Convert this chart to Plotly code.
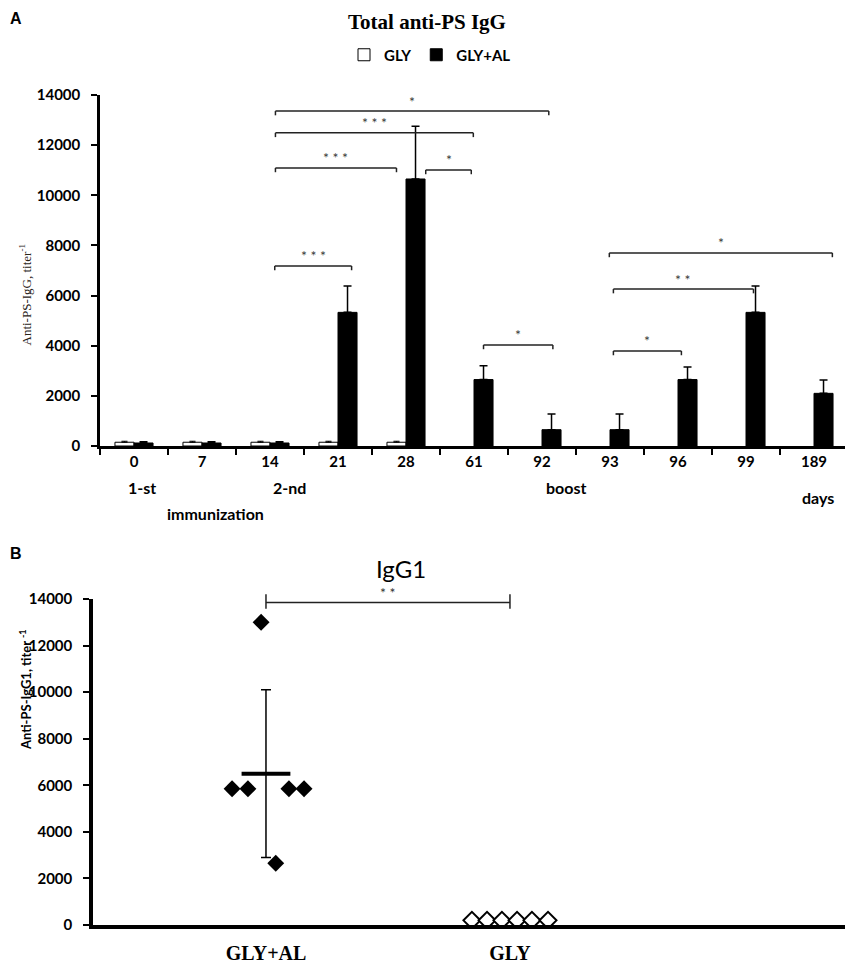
import plotly.graph_objects as go

# the page puts the figure 8px in from the window corner
OFF = 8
W, H = 853 - OFF, 964 - OFF

# panel A: total anti-PS IgG by day
days = ["0", "7", "14", "21", "28", "61", "92", "93", "96", "99", "189"]
gly = [150, 150, 150, 150, 150, None, None, None, None, None, None]
gly_err = [40, 40, 40, 40, 40, None, None, None, None, None, None]
gly_al = [120, 120, 120, 5330, 10650, 2650, 650, 650, 2650, 5330, 2100]
gly_al_err = [50, 50, 50, 1050, 2100, 550, 630, 630, 500, 1050, 530]

# significance brackets in panel A: (from, to, height, stars)
brackets_a = [
    (2.08, 6.10, 13360, "*"),
    (2.08, 4.99, 12490, "* * *"),
    (2.08, 3.86, 11090, "* * *"),
    (4.29, 4.96, 11010, "*"),
    (2.07, 3.20, 7180, "* * *"),
    (5.14, 6.16, 4030, "*"),
    (7.05, 8.05, 3790, "*"),
    (7.05, 9.11, 6260, "* *"),
    (6.99, 10.27, 7700, "*"),
]

# panel B: IgG1 individual titers
groups = ["GLY+AL", "GLY"]
igg1_gly_al = [13000, 5850, 5850, 5850, 5850, 2650]
igg1_gly = [200, 200, 200, 200, 200, 200]
igg1_mean = 6500
igg1_sd = 3600
jitter_al = [-0.02, -0.139, -0.074, 0.094, 0.156, 0.04]
jitter_gly = [-0.156, -0.094, -0.033, 0.029, 0.09, 0.156]


def px(x):
    return (x - OFF) / W


def py(y):
    return 1 - (y - OFF) / H


A_Y = [py(446), py(95)]
B_Y = [py(925), py(599)]


def yb(v):
    # panel B value -> paper coordinate (so the bracket is not clipped)
    return B_Y[0] + v / 14000 * (B_Y[1] - B_Y[0])


fig = go.Figure()

fig.add_trace(go.Bar(
    x=days, y=gly, name="GLY",
    marker=dict(color="white", line=dict(color="black", width=1)),
    error_y=dict(type="data", array=gly_err, symmetric=False, arrayminus=[0] * len(days),
                 color="black", thickness=1, width=3),
    xaxis="x", yaxis="y",
))
fig.add_trace(go.Bar(
    x=days, y=gly_al, name="GLY+AL",
    marker=dict(color="black", line=dict(color="black", width=1)),
    error_y=dict(type="data", array=gly_al_err, symmetric=False, arrayminus=[0] * len(days),
                 color="black", thickness=1.5, width=4),
    xaxis="x", yaxis="y",
))

fig.add_trace(go.Scatter(
    x=[1 + j for j in jitter_al], y=igg1_gly_al, mode="markers",
    marker=dict(symbol="diamond", size=13, color="black"),
    showlegend=False, xaxis="x2", yaxis="y2",
))
fig.add_trace(go.Scatter(
    x=[2 + j for j in jitter_gly], y=igg1_gly, mode="markers",
    marker=dict(symbol="diamond", size=13, color="white", line=dict(color="black", width=2)),
    showlegend=False, xaxis="x2", yaxis="y2",
))
fig.add_trace(go.Scatter(
    x=[1], y=[igg1_mean], mode="markers",
    marker=dict(size=1, color="rgba(0,0,0,0)"),
    error_y=dict(type="data", array=[igg1_sd], color="black", thickness=1.5, width=5),
    showlegend=False, xaxis="x2", yaxis="y2",
))
fig.add_trace(go.Scatter(
    x=[0.9, 1.1], y=[igg1_mean, igg1_mean], mode="lines",
    line=dict(color="black", width=4),
    showlegend=False, xaxis="x2", yaxis="y2",
))

shapes = []
ann = []
for x0, x1, y, lab in brackets_a:
    for sx0, sy0, sx1, sy1 in [(x0, y, x1, y), (x0, y, x0, y - 170), (x1, y, x1, y - 170)]:
        shapes.append(dict(type="line", xref="x", yref="y", x0=sx0, y0=sy0, x1=sx1, y1=sy1,
                           line=dict(color="#222", width=1.5)))
    ann.append(dict(x=(x0 + x1) / 2, y=y, xref="x", yref="y", text=lab, showarrow=False,
                    yshift=10, font=dict(family="Lato", size=14, color="#3a3a3a")))

# panel B bracket
b_y = 13850
for sx0, sy0, sx1, sy1 in [(1, b_y, 2, b_y), (1, b_y - 270, 1, b_y + 350), (2, b_y - 270, 2, b_y + 350)]:
    shapes.append(dict(type="line", xref="x2", yref="paper", x0=sx0, y0=yb(sy0), x1=sx1, y1=yb(sy1),
                       line=dict(color="#222", width=1.5)))
ann.append(dict(x=1.5, y=b_y, xref="x2", yref="y2", text="* *", showarrow=False, yshift=10,
                font=dict(family="Lato", size=14, color="#333")))

# panel letters sit at the very top-left edge
letter_font = dict(family="Liberation Sans", size=16, color="black", weight="bold")
ann.append(dict(x=0, y=1, xref="paper", yref="paper", text="A", showarrow=False,
                xanchor="left", yanchor="top", font=letter_font))
ann.append(dict(x=0, y=py(553), xref="paper", yref="paper", text="B", showarrow=False,
                xanchor="left", yanchor="middle", font=letter_font))

bold_sans = dict(family="Lato", size=16, color="black", weight="bold")
texts = [
    ("Total anti-PS IgG", 427, 22, dict(family="Liberation Serif", size=21, color="black", weight="bold")),
    ("IgG1", 401, 568, dict(family="Lato", size=24, color="black")),
    ("1-st", 142, 487, bold_sans),
    ("2-nd", 289, 487, bold_sans),
    ("immunization", 215, 513, bold_sans),
    ("boost", 566, 487, bold_sans),
    ("days", 818, 497, bold_sans),
]
for t, x, y, f in texts:
    ann.append(dict(x=px(x), y=py(y), xref="paper", yref="paper", text=t, showarrow=False,
                    xanchor="center", yanchor="middle", font=f))

ann.append(dict(x=px(15), y=py(243), xref="paper", yref="paper", text="Anti-PS-IgG, titer<sup>-1</sup>",
                textangle=-90, showarrow=False, font=dict(family="Liberation Serif", size=13, color="#2a2418")))
ann.append(dict(x=px(15), y=py(752), xref="paper", yref="paper", text="Anti-PS-IgG1, titer <sup>-1</sup>",
                textangle=-90, showarrow=False, font=dict(family="Lato", size=13, color="black", weight="bold")))

tickfont = dict(family="Lato", size=15, color="black", weight="bold")

fig.update_layout(
    width=W, height=H,
    margin=dict(l=0, r=0, t=0, b=0, autoexpand=False),
    paper_bgcolor="white", plot_bgcolor="white",
    barmode="group", bargap=0.44, bargroupgap=0,
    showlegend=True,
    legend=dict(orientation="h", x=px(430), xanchor="center", y=py(55), yanchor="middle",
                font=dict(family="Lato", size=15, color="black", weight="bold"),
                itemwidth=30, bgcolor="rgba(0,0,0,0)"),
    xaxis=dict(domain=[px(100), px(848)], anchor="y", type="category", range=[-0.5, 10.5],
               tickson="boundaries", ticks="outside", ticklen=6, tickwidth=2, tickcolor="black",
               showline=True, linewidth=2.5, linecolor="black", showgrid=False, tickfont=tickfont,
               automargin=False),
    yaxis=dict(domain=A_Y, anchor="x", range=[0, 14000], dtick=2000, tickformat="d", ticks="outside",
               ticklen=6, tickwidth=2, tickcolor="black", showline=True, linewidth=2.5, linecolor="black",
               showgrid=False, zeroline=False, tickfont=tickfont, ticklabelstandoff=8, automargin=False),
    xaxis2=dict(domain=[px(93), 1.0], anchor="y2", range=[0.291, 3.406], tickvals=[1, 2],
                ticktext=groups, ticks="", showline=True, linewidth=3.5, linecolor="black",
                showgrid=False, zeroline=False, ticklabelstandoff=7, automargin=False,
                tickfont=dict(family="Liberation Serif", size=20, color="black", weight="bold")),
    yaxis2=dict(domain=B_Y, anchor="x2", range=[0, 14000], dtick=2000, tickformat="d", ticks="outside",
                ticklen=6, tickwidth=2, tickcolor="black", showline=True, linewidth=3.5, linecolor="black",
                showgrid=False, zeroline=False, tickfont=tickfont, ticklabelstandoff=8, automargin=False),
    shapes=shapes,
    annotations=ann,
)

fig.write_html("out.html")
